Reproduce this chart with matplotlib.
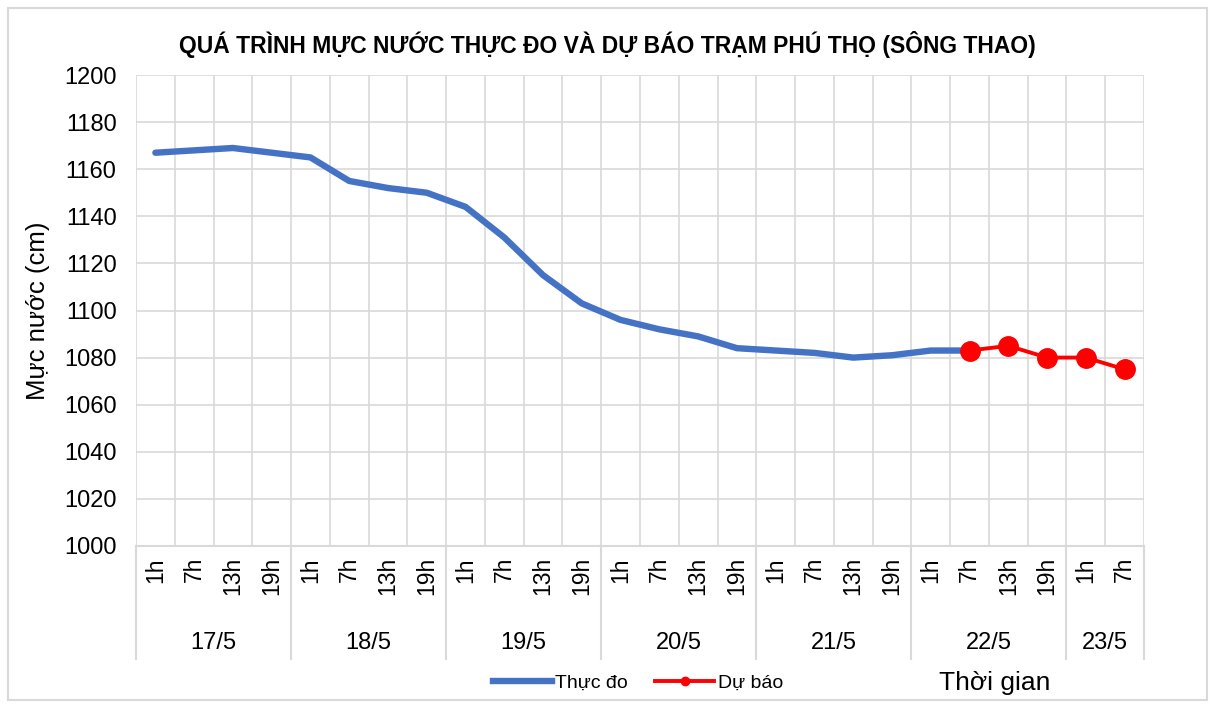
import numpy as np
import matplotlib
matplotlib.use('Agg')
import matplotlib.pyplot as plt
from matplotlib import font_manager
from matplotlib.lines import Line2D
from matplotlib.patches import Rectangle

# data
days = ['17/5', '18/5', '19/5', '20/5', '21/5', '22/5', '23/5']
hours_per_day = [['1h', '7h', '13h', '19h']] * 6 + [['1h', '7h']]
observed = [1167, 1168, 1169, 1167, 1165, 1155, 1152, 1150, 1144, 1131, 1115,
            1103, 1096, 1092, 1089, 1084, 1083, 1082, 1080, 1081, 1083, 1083]
forecast = [1083, 1085, 1080, 1080, 1075]
forecast_start = 21  # 22/5 7h
yticks = list(range(1000, 1201, 20))

names = {f.name for f in font_manager.fontManager.ttflist}
font = 'Liberation Sans Narrow' if 'Liberation Sans Narrow' in names else 'Liberation Sans'
plt.rcParams['font.family'] = [font, 'DejaVu Sans']

hour_labels = [h for hs in hours_per_day for h in hs]
n = len(hour_labels)
x_obs = np.arange(len(observed))
x_fc = np.arange(forecast_start, forecast_start + len(forecast))

fig = plt.figure(figsize=(12.15, 7.04), dpi=100)
ax = fig.add_axes([136 / 1215, 1 - 546 / 704, 1008 / 1215, 471 / 704])

grid_c = '#d9d9d9'
ax.plot(x_obs, observed, color='#4472C4', lw=4.6, solid_capstyle='round', zorder=3)
ax.plot(x_fc, forecast, color='#FF0000', lw=2.8, marker='o', ms=14, zorder=4)

ax.set_xlim(-0.5, n - 0.5)
ax.set_ylim(1000, 1200)
ax.set_yticks(yticks)
ax.set_xticks(np.arange(n))
ax.set_xticklabels(hour_labels, rotation=90, va='top', fontsize=16.5)
ax.set_xticks(np.arange(-0.5, n, 0.5), minor=True)
ax.tick_params(axis='both', which='both', length=0)
ax.tick_params(axis='y', labelsize=17, pad=14)
ax.tick_params(axis='x', pad=8)
ax.grid(True, axis='y', color=grid_c, lw=1.2)
ax.grid(True, axis='x', which='minor', color=grid_c, lw=1.2)
for s in ['top', 'right', 'left']:
    ax.spines[s].set_visible(False)
ax.spines['bottom'].set_color(grid_c)
ax.spines['bottom'].set_linewidth(1.5)

ax.set_ylabel('Mực nước (cm)', fontsize=18.5, labelpad=10)

# day groups below the hour labels
trans = ax.get_xaxis_transform()
start = 0
bounds = [-0.5]
for d, hs in zip(days, hours_per_day):
    mid = start + (len(hs) - 1) / 2
    ax.text(mid, -0.205, d, transform=trans, ha='center', va='center', fontsize=17)
    start += len(hs)
    bounds.append(start - 0.5)
for b in bounds:
    ax.plot([b, b], [0, -0.24], transform=trans, color=grid_c, lw=1.5, clip_on=False)

fig.suptitle('QUÁ TRÌNH MỰC NƯỚC THỰC ĐO VÀ DỰ BÁO TRẠM PHÚ THỌ (SÔNG THAO)',
             x=607 / 1215, y=1 - 45 / 704, va='center', fontsize=16.5, fontweight='bold')

handles = [Line2D([], [], color='#4472C4', lw=4.6),
           Line2D([], [], color='#FF0000', lw=2.8, marker='o', ms=6)]
fig.legend(handles, ['Thực đo', 'Dự báo'], loc='center', ncol=2, frameon=False,
           bbox_to_anchor=(638 / 1215, 1 - 683 / 704), fontsize=14,
           handlelength=3, handletextpad=0.2, columnspacing=1.4)
fig.text(995 / 1215, 1 - 683 / 704, 'Thời gian', ha='center', va='center', fontsize=19)

fig.patches.append(Rectangle((8 / 1215, 4 / 704), 1199 / 1215, 692 / 704,
                             transform=fig.transFigure, fill=False,
                             edgecolor=grid_c, lw=1.5))

fig.savefig('out.png', dpi=100)
